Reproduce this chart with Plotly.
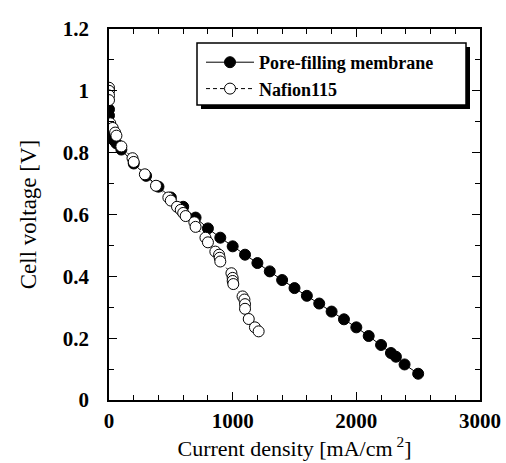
import plotly.graph_objects as go

# Pore-filling membrane (filled circles)
pf_current = [0, 0, 0, 0, 20, 40, 60, 100, 200, 300, 400, 500, 600, 700, 800, 900,
              1000, 1100, 1200, 1300, 1400, 1500, 1600, 1700, 1800, 1900, 2000,
              2100, 2200, 2280, 2320, 2390, 2500]
pf_voltage = [0.94, 0.92, 0.87, 0.855, 0.85, 0.84, 0.83, 0.81, 0.765, 0.725, 0.69,
              0.655, 0.625, 0.59, 0.555, 0.525, 0.497, 0.47, 0.443, 0.416, 0.388,
              0.362, 0.337, 0.312, 0.286, 0.261, 0.235, 0.207, 0.178, 0.152, 0.14,
              0.115, 0.085]

# Nafion115 (open circles)
nf_current = [0, 0, 0, 0, 10, 30, 50, 60, 100, 190, 200, 290, 380, 480, 500, 550,
              580, 600, 620, 690, 700, 780, 800, 860, 890, 895, 900, 990, 1000,
              1000, 1005, 1080, 1095, 1100, 1100, 1130, 1180, 1210]
nf_voltage = [1.01, 1.0, 0.985, 0.97, 0.895, 0.88, 0.865, 0.855, 0.82, 0.782, 0.77,
              0.73, 0.693, 0.655, 0.645, 0.625, 0.615, 0.605, 0.595, 0.575, 0.56,
              0.525, 0.51, 0.48, 0.47, 0.46, 0.448, 0.41, 0.395, 0.385, 0.375,
              0.335, 0.325, 0.31, 0.295, 0.262, 0.235, 0.222]

x_ticks = [0, 1000, 2000, 3000]
y_ticks = [0, 0.2, 0.4, 0.6, 0.8, 1, 1.2]
y_tick_labels = ["0", "0.2", "0.4", "0.6", "0.8", "1", "1.2"]

SERIF = "Liberation Serif, Times New Roman, serif"

fig = go.Figure()
fig.add_trace(go.Scatter(
    x=pf_current, y=pf_voltage, mode="lines+markers",
    name="<b>Pore-filling membrane</b>",
    line=dict(color="black", width=1),
    marker=dict(symbol="circle", size=11, color="black",
                line=dict(color="black", width=1)),
))
fig.add_trace(go.Scatter(
    x=nf_current, y=nf_voltage, mode="lines+markers",
    name="<b>Nafion115</b>",
    line=dict(color="black", width=1, dash="4px,3px"),
    marker=dict(symbol="circle", size=11, color="white",
                line=dict(color="black", width=1)),
))

L, R, T, B = 109, 26, 29, 63
W, H = 506, 463
pw, ph = W - L - R, H - T - B

def px_x(p):
    return (p - L) / pw

def px_y(p):
    return (H - B - p) / ph

# legend frame with drop shadow
fig.add_shape(type="rect", xref="paper", yref="paper",
              x0=px_x(201), x1=px_x(470), y0=px_y(109), y1=px_y(47),
              fillcolor="black", line=dict(width=0), layer="above")
fig.add_shape(type="rect", xref="paper", yref="paper",
              x0=px_x(197), x1=px_x(466), y0=px_y(105), y1=px_y(43),
              fillcolor="white", line=dict(color="black", width=1.5), layer="above")

fig.update_layout(
    width=W, height=H,
    margin=dict(l=L, r=R, t=T, b=B, pad=0),
    paper_bgcolor="white", plot_bgcolor="white",
    font=dict(family=SERIF, color="black"),
    showlegend=True,
    legend=dict(
        x=px_x(201), xanchor="left", y=px_y(44), yanchor="top",
        bgcolor="rgba(0,0,0,0)", borderwidth=0,
        font=dict(family=SERIF, size=18, color="black"),
        itemwidth=48, tracegroupgap=2,
    ),
    xaxis=dict(
        range=[0, 3000], tickmode="array", tickvals=x_ticks,
        ticktext=[f"<b>{v}</b>" for v in x_ticks],
        ticks="inside", ticklen=8, tickwidth=1, tickcolor="black",
        minor=dict(dtick=200, ticks="inside", ticklen=5, tickcolor="black", tickwidth=1),
        showline=True, linecolor="black", linewidth=1.5, mirror="allticks",
        showgrid=False, zeroline=False, automargin=False,
        tickfont=dict(family=SERIF, size=21), ticklabelstandoff=1,
        title=dict(text="Current density [mA/cm<sup> 2</sup>]",
                   font=dict(family=SERIF, size=22), standoff=4),
    ),
    yaxis=dict(
        range=[0, 1.2], tickmode="array", tickvals=y_ticks,
        ticktext=[f"<b>{t}</b>" for t in y_tick_labels],
        ticks="inside", ticklen=8, tickwidth=1, tickcolor="black",
        minor=dict(dtick=0.1, ticks="inside", ticklen=5, tickcolor="black", tickwidth=1),
        showline=True, linecolor="black", linewidth=1.5, mirror="allticks",
        showgrid=False, zeroline=False, automargin=False,
        tickfont=dict(family=SERIF, size=21), ticklabelstandoff=14,
        title=dict(text="Cell voltage [V]", font=dict(family=SERIF, size=23), standoff=20),
    ),
)

fig.write_html("out.html", config={"displayModeBar": False},
               post_script="document.body.style.margin='0';document.body.style.overflow='hidden';")
